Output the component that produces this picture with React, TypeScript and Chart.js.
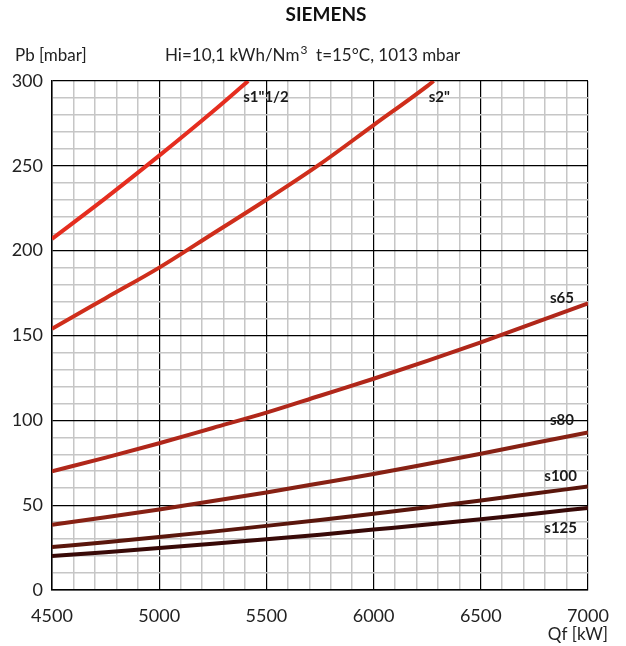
import React, { useEffect, useRef } from "react";
import { Chart, registerables } from "chart.js";

Chart.register(...registerables);

// Flow rate Qf [kW]
const QF = [4500, 4750, 5000, 5250, 5500, 5750, 6000, 6250, 6500, 6750, 7000];
// curves that leave the chart at the top
const QF_S1_12 = [4500, 4750, 5000, 5250, 5415];
const P_S1_12 = [207, 231, 256, 282, 300];
const QF_S2 = [4500, 4750, 5000, 5250, 5500, 5750, 6000, 6250, 6280];
const P_S2 = [154, 172, 190, 210, 230, 251, 274, 297, 300];
// full-range curves, Pb [mbar]
const P_S65 = [70, 78, 86.5, 95.5, 104.5, 114.5, 124.5, 135, 146, 157.5, 169];
const P_S80 = [38.5, 42.9, 47.5, 52.4, 57.5, 62.9, 68.4, 74.3, 80.3, 86.6, 92.8];
const P_S100 = [25.3, 28.2, 31.2, 34.4, 37.8, 41.3, 45.0, 48.8, 52.8, 56.9, 61];
const P_S125 = [20, 22.3, 24.7, 27.2, 29.9, 32.6, 35.6, 38.6, 41.7, 45.0, 48.4];

const SERIES_NAMES = ['s1"1/2', 's2"', "s65", "s80", "s100", "s125"];
const X_TICK_LABELS = ["4500", "5000", "5500", "6000", "6500", "7000"];
const Y_TICK_LABELS = ["0", "50", "100", "150", "200", "250", "300"];

const COLORS = ["#e52d1f", "#cf2e1b", "#b0271a", "#872114", "#5a160c", "#380907"];
// label placement (px offsets from each curve's last point)
const LABEL_STYLE = [
  { align: "left", dx: -5, dy: 16 },
  { align: "left", dx: -5, dy: 16 },
  { align: "right", dx: -14, dy: -5 },
  { align: "right", dx: -14, dy: -12 },
  { align: "right", dx: -11, dy: -10 },
  { align: "right", dx: -11, dy: 20 },
];

const FONT = "Lato, 'Noto Sans', sans-serif";

function pts(xs: number[], ys: number[]) {
  return xs.map((x, i) => ({ x, y: ys[i] }));
}

export default function App() {
  const ref = useRef<HTMLCanvasElement | null>(null);

  useEffect(() => {
    const canvas = ref.current;
    if (!canvas) return;
    const seriesData = [
      pts(QF_S1_12, P_S1_12),
      pts(QF_S2, P_S2),
      pts(QF, P_S65),
      pts(QF, P_S80),
      pts(QF, P_S100),
      pts(QF, P_S125),
    ];

    const textPlugin = {
      id: "texts",
      afterDatasetsDraw(chart: any) {
        const ctx = chart.ctx;
        ctx.save();
        // series labels
        ctx.font = `bold 15px ${FONT}`;
        ctx.fillStyle = "#1a1a1a";
        ctx.textBaseline = "middle";
        chart.data.datasets.forEach((ds: any, i: number) => {
          const meta = chart.getDatasetMeta(i);
          const last = meta.data[meta.data.length - 1];
          const st = LABEL_STYLE[i];
          ctx.textAlign = st.align;
          ctx.fillText(SERIES_NAMES[i], last.x + st.dx, last.y + st.dy);
        });
        const ca = chart.chartArea;
        // title
        ctx.fillStyle = "#111";
        ctx.textAlign = "center";
        ctx.font = `bold 19px ${FONT}`;
        ctx.fillText("SIEMENS", 326, 15);
        ctx.font = `17px ${FONT}`;
        ctx.textAlign = "left";
        ctx.fillStyle = "#222";
        ctx.fillText("Pb [mbar]", 15, 56);
        // subtitle with superscript
        let x = 165;
        const p1 = "Hi=10,1 kWh/Nm";
        ctx.fillText(p1, x, 56);
        x += ctx.measureText(p1).width + 1;
        ctx.font = `12px ${FONT}`;
        ctx.fillText("3", x, 50);
        x += ctx.measureText("3").width;
        ctx.font = `17px ${FONT}`;
        ctx.fillText("  t=15°C, 1013 mbar", x, 56);
        ctx.textAlign = "right";
        ctx.fillText("Qf [kW]", ca.right + 20, 635);
        ctx.restore();
      },
    };

    const chart = new Chart(canvas, {
      type: "line",
      data: {
        datasets: seriesData.map((d, i) => ({
          label: SERIES_NAMES[i],
          data: d,
          borderColor: COLORS[i],
          backgroundColor: COLORS[i],
          borderWidth: 4,
          pointRadius: 0,
          tension: 0.4,
          cubicInterpolationMode: "monotone",
          fill: false,
        })),
      },
      options: {
        responsive: false,
        animation: false,
        layout: { padding: { top: 81, right: 38, left: 0, bottom: 0 } },
        plugins: {
          legend: { display: false },
          tooltip: { enabled: false },
          title: { display: false },
        },
        scales: {
          x: {
            type: "linear",
            min: 4500,
            max: 7000,
            ticks: {
              stepSize: 100,
              autoSkip: false,
              maxRotation: 0,
              padding: 15,
              color: "#222",
              font: { family: FONT, size: 18 },
              callback: (v: any) => {
                const s = String(v);
                return X_TICK_LABELS.includes(s) ? s : "";
              },
            },
            grid: {
              drawTicks: false,
              color: (c: any) => (c.tick && c.tick.value % 500 === 0 ? "#000" : "#c6c6c6"),
              lineWidth: (c: any) => (c.tick && c.tick.value % 500 === 0 ? 1.2 : 1.5),
            },
            border: { display: true, color: "#000", width: 1.5 },
            afterFit: (s: any) => {
              s.height = 56;
            },
          },
          y: {
            type: "linear",
            min: 0,
            max: 300,
            ticks: {
              stepSize: 10,
              autoSkip: false,
              padding: 9,
              color: "#222",
              font: { family: FONT, size: 18 },
              callback: (v: any) => {
                const s = String(v);
                return Y_TICK_LABELS.includes(s) ? s : "";
              },
            },
            grid: {
              drawTicks: false,
              color: (c: any) => (c.tick && c.tick.value % 50 === 0 ? "#000" : "#c6c6c6"),
              lineWidth: (c: any) => (c.tick && c.tick.value % 50 === 0 ? 1.2 : 1.5),
            },
            border: { display: true, color: "#000", width: 1.5 },
            afterFit: (s: any) => {
              s.width = 52;
            },
          },
        },
      },
      plugins: [textPlugin],
    } as any);

    return () => chart.destroy();
  }, []);

  return (
    <div style={{ position: "absolute", left: 0, top: 0, width: 626, height: 646, background: "#fff" }}>
      <canvas ref={ref} width={626} height={646} style={{ width: 626, height: 646, display: "block" }} />
    </div>
  );
}
